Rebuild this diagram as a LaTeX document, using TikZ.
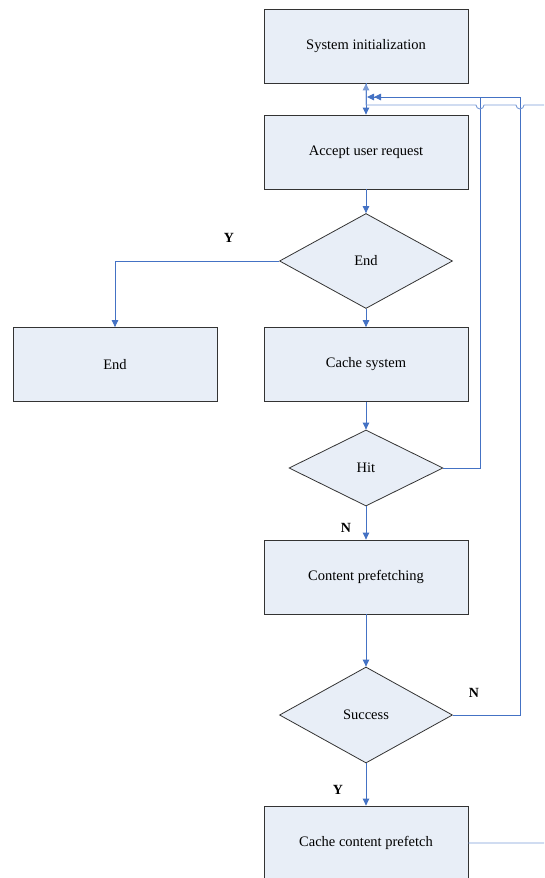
\documentclass[tikz,border=0pt]{standalone}
\usepackage{fontspec}
\setmainfont{Liberation Serif}
\usepackage{xcolor}
\usepackage{tikz}
\usetikzlibrary{arrows.meta,shapes.geometric}
\definecolor{boxfill}{HTML}{E8EEF7}
\definecolor{boxline}{HTML}{333333}
\definecolor{linec}{HTML}{4472C4}
\definecolor{softlinec}{HTML}{7A9BD6}
\tikzset{
  ar/.style={-{Triangle[length=7pt,width=6.5pt]},linec,line width=0.9pt},
  box/.style={draw=boxline,line width=0.8pt,fill=boxfill,minimum width=204pt,minimum height=74pt,inner sep=0pt,font=\fontsize{14.5}{16}\selectfont},
  dec/.style={draw=boxline,line width=0.8pt,fill=boxfill,shape=diamond,inner sep=0pt,font=\fontsize{14.5}{16}\selectfont},
  lab/.style={font=\fontsize{14}{16}\selectfont\bfseries}
}

\begin{document}
\begin{tikzpicture}[x=1pt,y=-1pt]
\useasboundingbox (0,0) rectangle (544,878);
\clip (0,0) rectangle (544,878);
% main column
\node[box] (init) at (366,46) {System initialization};
\node[box] (accept) at (366,152) {Accept user request};
\node[dec,minimum width=173pt,minimum height=95pt] (enddec) at (366,261) {End};
\node[box] (endbox) at (115,364.5) {End};
\node[box] (cache) at (366,364.5) {Cache system};
\node[dec,minimum width=154pt,minimum height=76pt] (hit) at (366,468) {Hit};
\node[box] (prefetch) at (366,577) {Content prefetching};
\node[dec,minimum width=173pt,minimum height=96pt] (success) at (366,715) {Success};
\node[box] (store) at (366,843) {Cache content prefetch};
% loop points
\coordinate (hitc) at (480,468);
\coordinate (sucr) at (520,715);
\coordinate (stor) at (560,843);
\coordinate (tipa) at (367,97);
\coordinate (tipb) at (374,97);
% connectors
\draw[ar] (init) -- (accept);
\draw[ar] (accept) -- (enddec);
\draw[ar] (enddec.west) -| (endbox.north);
\draw[ar] (enddec) -- (cache);
\draw[ar] (cache) -- (hit);
\draw[ar] (hit) -- (prefetch);
\draw[ar] (prefetch) -- (success);
\draw[ar] (success) -- (store);
\draw[ar] (hit.east) -- (hitc) |- (tipa);
\draw[ar] (success.east) -- (sucr) |- (tipb);
\draw[ar,softlinec] (store.east) -- (stor) |- (524,105)
  arc[start angle=0,end angle=180,radius=4] -- (484,105)
  arc[start angle=0,end angle=180,radius=4] -| (init.south);
% labels
\node[lab] (ly1) at (229,238) {Y};
\node[lab] (ln1) at (346,528) {N};
\node[lab] (ln2) at (474,693) {N};
\node[lab] (ly2) at (338,790) {Y};
\end{tikzpicture}
\end{document}
